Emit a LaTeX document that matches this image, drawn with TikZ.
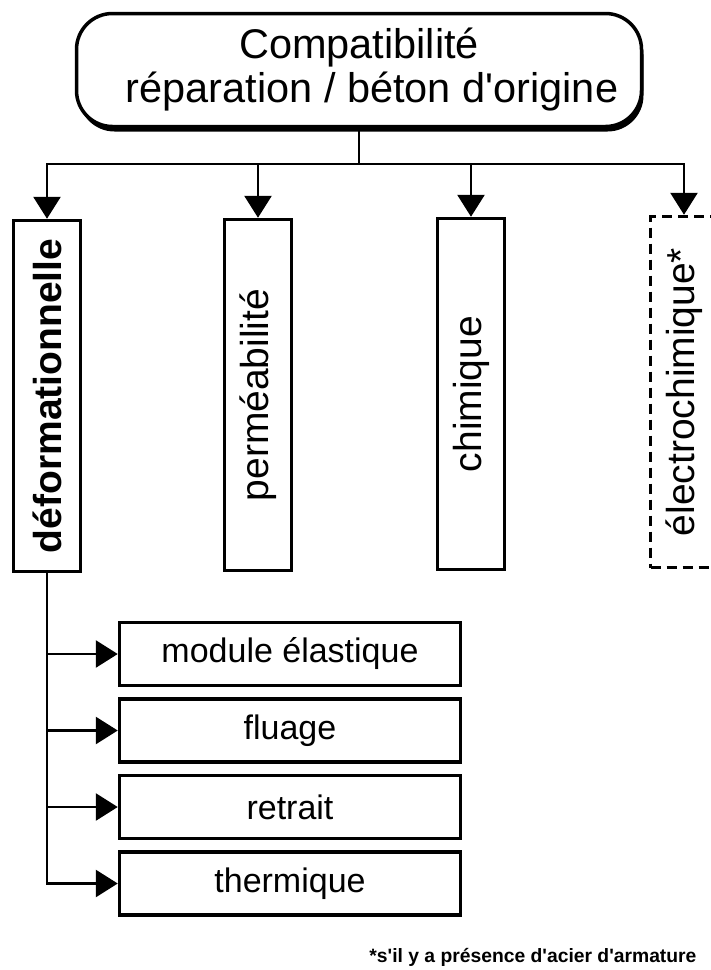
\documentclass[tikz,border=0pt]{standalone}
\usepackage{fontspec}
\setmainfont{Liberation Sans}
\usetikzlibrary{arrows.meta,positioning,calc,shadows}

\begin{document}
\begin{tikzpicture}[
    x=1pt, y=-1pt,
    font=\fontsize{39}{44}\selectfont,
    head/.style={draw, line width=3.5pt, rounded corners=36pt, align=center, minimum width=565pt, minimum height=113pt, inner sep=0pt, fill=white,
        font=\fontsize{41.5}{44}\selectfont,
        drop shadow={shadow xshift=2pt, shadow yshift=-5pt, opacity=1, fill=black}},
    col/.style={draw, line width=3.5pt, minimum width=67pt, minimum height=351pt, inner sep=0pt, fill=white},
    sub/.style={draw, line width=3.5pt, minimum width=341pt, minimum height=63pt, inner sep=0pt, font=\fontsize{34}{40}\selectfont},
    bus/.style={-{Triangle[width=27pt,length=22pt]}, line width=2.8pt},
    link/.style={line width=2.8pt}
]
    \useasboundingbox (0,0) rectangle (711,970);
    % top box
    \node[head] (compat) at (359,70) {Compatibilité\\\hspace*{26pt}réparation / béton d\textquotesingle origine};
    \coordinate (split) at (compat.south |- 0,164);
    % the four kinds
    \node[col] (defo) at (47,396) {\rotatebox{90}{\bfseries déformationnelle}};
    \node[col] (perm) at (258,395) {\rotatebox{90}{perméabilité}};
    \node[col] (chim) at (471,394) {\rotatebox{90}{chimique}};
    \node[col, dash pattern=on 10pt off 6pt] (elec) at (684,392) {\rotatebox{90}{électrochimique*}};
    \draw[link] (compat.south) -- (split);
    \foreach \n in {defo,perm,chim,elec}
        \draw[bus] (split) -| (\n.north);
    % deformation sub-items
    \node[sub] (modu) at (290,654) {module élastique};
    \node[sub, below=10pt of modu] (flu) {fluage};
    \node[sub, below=10pt of flu] (retr) {retrait};
    \node[sub, below=10pt of retr] (therm) {thermique};
    \draw[bus] (defo.south) |- (therm.west);
    \foreach \n in {modu,flu,retr}
        \draw[bus] (defo.south |- \n.west) -- (\n.west);
    % footnote
    \node[anchor=east, font=\bfseries\fontsize{19.3}{21}\selectfont] (note) at (700,957)
        {*s\textquotesingle il y a présence d\textquotesingle acier d\textquotesingle armature};
\end{tikzpicture}
\end{document}
